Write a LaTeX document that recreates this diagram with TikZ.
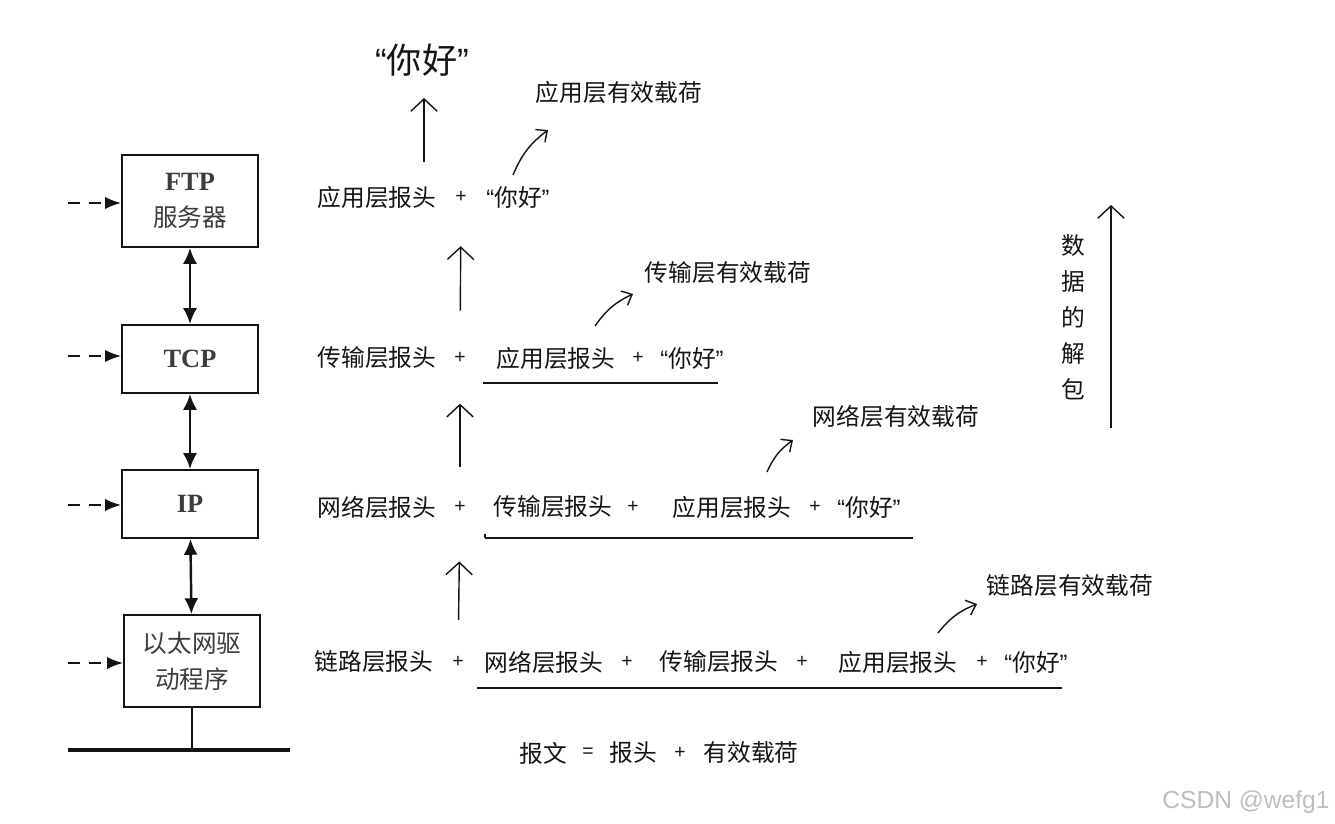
\documentclass[tikz,border=0pt]{standalone}
\usepackage{fontspec}
\setmainfont{Liberation Serif}
\newfontfamily\hanzi{Noto Sans CJK SC}
\newfontfamily\latsans{Liberation Sans}
\usepackage{xcolor}
\definecolor{ink}{RGB}{20,20,20}
\definecolor{boxtext}{RGB}{60,60,60}
\definecolor{mark}{RGB}{190,190,190}
\usepackage{tikz}
\usetikzlibrary{arrows.meta,positioning}
\newcommand{\nihao}{{\latsans“}你好{\latsans”}}
\tikzset{
  %% protocol stack on the left
  layer/.style={draw=ink, line width=1.1pt, minimum width=2.72cm,
                minimum height=1.84cm, align=center, inner sep=0pt,
                text=boxtext, font=\hanzi\fontsize{14}{20.5}\selectfont},
  link/.style={draw=ink, line width=1.4pt,
               {Latex[length=9pt,width=8pt]}-{Latex[length=9pt,width=8pt]}},
  feed/.style={draw=ink, line width=1.1pt, dash pattern=on 7pt off 5pt,
               -{Latex[length=9pt,width=7pt]}},
  %% packet rows
  hdr/.style={inner sep=0pt, text=ink, font=\hanzi\fontsize{13.5}{16}\selectfont},
  plus/.style={inner sep=0pt, text=ink, font=\latsans\fontsize{11}{13}\selectfont},
  rise/.style={draw=ink, line width=0.8pt, -{Straight Barb[length=7pt,width=15pt]}},
  hint/.style={draw=ink, line width=0.8pt, -{Straight Barb[length=5pt,width=9pt]}},
  under/.style={draw=ink, line width=0.8pt},
}
\begin{document}
\begin{tikzpicture}[x=0.02cm,y=-0.02cm]
\useasboundingbox (0,0) rectangle (1335,824);

%% left column
\node[layer] (ftp) at (190,201) {{\rmfamily\bfseries\fontsize{15}{20}\selectfont FTP}\\服务器};
\node[layer,minimum height=1.36cm] (tcp) at (190,359) {\rmfamily\bfseries\fontsize{15}{20}\selectfont TCP};
\node[layer,minimum height=1.36cm] (ip) at (190,504) {\rmfamily\bfseries\fontsize{15}{20}\selectfont IP};
\node[layer] (eth) at (192,661) {以太网驱\\动程序};
\draw[link] (ftp) -- (tcp);
\draw[link] (tcp) -- (ip);
\draw[link] (ip) -- (eth);
\foreach \b/\y in {ftp/203,tcp/356,ip/505,eth/663}{
  \coordinate (in-\b) at (68,\y);
  \draw[feed] (in-\b) -- (in-\b -| \b.west);
}
\coordinate (busL) at (68,750);
\coordinate (busR) at (290,750);
\draw[draw=ink,line width=2.4pt] (busL) -- (busR);
\draw[draw=ink,line width=0.8pt] (eth) -- (eth |- busL);

%% rows, top to bottom
\node[hdr,font=\hanzi\fontsize{20}{24}\selectfont] (big) at (422,60) {\nihao};

\node[hdr] (h1a) at (377,197) {应用层报头};
\node[plus] (p1a) at (461,197) {+};
\node[hdr] (q1) at (518,197) {\nihao};

\node[hdr] (h2a) at (377,358) {传输层报头};
\node[plus] (p2a) at (460,358) {+};
\node[hdr] (h2b) at (556,358) {应用层报头};
\node[plus] (p2b) at (638,358) {+};
\node[hdr] (q2) at (692,358) {\nihao};

\node[hdr] (h3a) at (377,507) {网络层报头};
\node[plus] (p3a) at (460,507) {+};
\node[hdr] (h3b) at (553,507) {传输层报头};
\node[plus] (p3b) at (633,507) {+};
\node[hdr] (h3c) at (732,507) {应用层报头};
\node[plus] (p3c) at (815,507) {+};
\node[hdr] (q3) at (869,507) {\nihao};

\node[hdr] (h4a) at (374,662) {链路层报头};
\node[plus] (p4a) at (458,662) {+};
\node[hdr] (h4b) at (544,662) {网络层报头};
\node[plus] (p4b) at (627,662) {+};
\node[hdr] (h4c) at (719,662) {传输层报头};
\node[plus] (p4c) at (802,662) {+};
\node[hdr] (h4d) at (898,662) {应用层报头};
\node[plus] (p4d) at (982,662) {+};
\node[hdr] (q4) at (1036,662) {\nihao};

%% payload labels
\node[hdr] (pl1) at (619,93) {应用层有效载荷};
\node[hdr] (pl2) at (728,273) {传输层有效载荷};
\node[hdr] (pl3) at (896,416) {网络层有效载荷};
\node[hdr] (pl4) at (1070,586) {链路层有效载荷};

\draw[under] (483,383) -- (718,383);
\draw[under] (485,538) -- (913,538);
\draw[under] (485,534) -- (485,538);
\draw[under] (477,688) -- (1062,688);

%% upward arrows
\coordinate (up0) at (424,162);
\coordinate (up0e) at (424,98);
\draw[rise] (up0) -- (up0e);
\draw[rise,shorten <=27pt,shorten >=28pt] (p2a.center) -- (p1a.center);
\draw[rise,shorten <=23pt,shorten >=26pt] (p3a.center) -- (p2a.center);
\draw[rise,shorten <=24pt,shorten >=31pt] (p4a.center) -- (p3a.center);

\coordinate (k1) at (513,175);  \coordinate (k1e) at (548,130);
\coordinate (k2) at (595,326);  \coordinate (k2e) at (633,294);
\coordinate (k3) at (767,472);  \coordinate (k3e) at (793,440);
\coordinate (k4) at (938,633);  \coordinate (k4e) at (977,604);
\foreach \k in {k1,k2,k3,k4}
  \draw[hint] (\k) to[bend left=15] (\k e);

%% decapsulation
\node[hdr,align=center,font=\hanzi\fontsize{13.5}{20.5}\selectfont] (unpack) at (1073,317) {数\\据\\的\\解\\包};
\coordinate (dl) at (1111,428);
\coordinate (dh) at (1111,205);
\draw[rise] (dl) -- (dh);

%% summary
\node[hdr] (f1) at (543,753) {报文};
\node[plus] (f2) at (588,753) {=};
\node[hdr] (f3) at (633,753) {报头};
\node[plus] (f4) at (680,753) {+};
\node[hdr] (f5) at (751,753) {有效载荷};

\node[inner sep=0pt,text=mark,font=\latsans\fontsize{14}{17}\selectfont] (wm) at (1246,802) {CSDN @wefg1};
\end{tikzpicture}
\end{document}
